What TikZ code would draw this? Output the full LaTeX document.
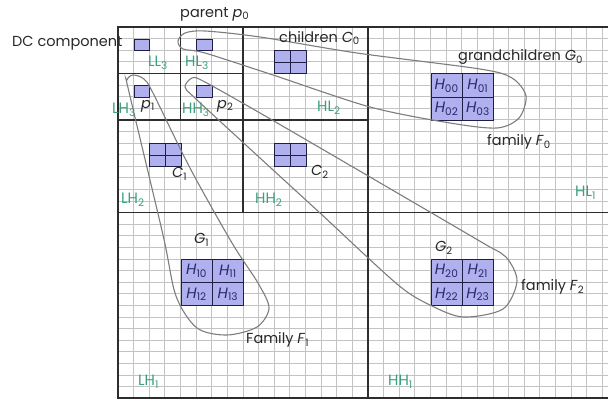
\documentclass[tikz,border=0pt]{standalone}
\usepackage{fontspec}
\setmainfont{Poppins}
\definecolor{gridgray}{RGB}{195,195,195}
\definecolor{majorline}{RGB}{45,45,45}
\definecolor{boxfill}{RGB}{176,176,238}
\definecolor{boxline}{RGB}{30,30,70}
\definecolor{htext}{RGB}{40,40,110}
\definecolor{labgreen}{RGB}{60,160,125}
\definecolor{famgray}{RGB}{125,125,125}
\definecolor{txtgray}{RGB}{40,40,40}
\newcommand\vsub[2]{\textit{#1}\textsubscript{#2}}
\begin{document}
\begin{tikzpicture}[x=1pt,y=-1pt,
  cellbox/.style={draw=boxline,line width=1pt,fill=boxfill,minimum width=15.625pt,minimum height=11.6pt,inner sep=0pt,anchor=north west},
  hbox/.style={draw=boxline,line width=1pt,fill=boxfill,minimum width=31.25pt,minimum height=23.2pt,inner sep=0pt,anchor=north west,text=htext,font=\fontsize{15}{16}\selectfont},
  lab/.style={anchor=west,inner sep=0pt,text=txtgray,font=\fontsize{14.5}{16}\selectfont},
  band/.style={anchor=west,inner sep=0pt,text=labgreen,font=\fontsize{15}{16}\selectfont},
  family/.style={draw=famgray,line width=1.1pt},
  major/.style={draw=majorline,line width=1.6pt}]
\useasboundingbox (0,0) rectangle (608,399);
\clip (0,0) rectangle (608,399);
% fine grid
\foreach \i in {0,...,32} {
  \draw[gridgray,line width=0.8pt] ({118+15.625*\i},27) -- ({118+15.625*\i},398.2);
  \draw[gridgray,line width=0.8pt] (118,{27+11.6*\i}) -- (618,{27+11.6*\i});
}
% parents
\node[cellbox] (p0d) at (133.625,38.6) {};
\node[cellbox] (p0) at (196.125,38.6) {};
\node[cellbox] (p1) at (133.625,85) {};
\node[cellbox] (p2) at (196.125,85) {};
% children blocks
\foreach \nm/\x/\y in {C0/274.25/50.2, C1/149.25/143, C2/274.25/143} {
  \node[cellbox] (\nm a) at (\x,\y) {};
  \node[cellbox] (\nm b) at ({\x+15.625},\y) {};
  \node[cellbox] (\nm c) at (\x,{\y+11.6}) {};
  \node[cellbox] (\nm d) at ({\x+15.625},{\y+11.6}) {};
}
% grandchildren blocks
\foreach \g/\x/\y in {0/430.5/73.4, 1/180.5/259, 2/430.5/259} {
  \node[hbox] (H\g0) at (\x,\y) {\textit{H}\textsubscript{\g0}};
  \node[hbox] (H\g1) at ({\x+31.25},\y) {\textit{H}\textsubscript{\g1}};
  \node[hbox] (H\g2) at (\x,{\y+23.2}) {\textit{H}\textsubscript{\g2}};
  \node[hbox] (H\g3) at ({\x+31.25},{\y+23.2}) {\textit{H}\textsubscript{\g3}};
}
% major subband lines
\draw[major] (618,27) -- (118,27) -- (118,398.2) -- (618,398.2);
\draw[major] (180.5,27) -- (180.5,119.8);
\draw[major] (118,73.4) -- (243,73.4);
\draw[major] (243,27) -- (243,212.6);
\draw[major] (118,119.8) -- (368,119.8);
\draw[major] (368,27) -- (368,398.2);
\draw[major] (118,212.6) -- (618,212.6);
% families
\draw[family] plot[smooth cycle,tension=0.5] coordinates {
  (178,41) (185,33) (205,31) (260,37) (357,53) (480,69) (512,78) (526,96)
  (519,118) (497,128) (450,123) (370,107) (273,75) (205,53) (183,49)};
\draw[family] plot[smooth cycle,tension=0.5] coordinates {
  (133,75) (144,79) (153,93) (190,168) (232,243) (258,283) (269,308)
  (257,327) (227,335) (197,328) (176,296) (163,235) (129,92) (127,80)};
\draw[family] plot[smooth cycle,tension=0.5] coordinates {
  (192,78) (203,81) (260,113) (370,177) (483,243) (506,257) (517,281)
  (503,309) (463,317) (430,305) (397,284) (320,213) (260,158) (196,99) (185,87)};
% text labels
\node[lab] (tparent) at (180,14) {parent \vsub{p}{0}};
\node[lab] (tdc) at (12,43) {DC component};
\node[lab] (tchild) at (279,38) {children \vsub{C}{0}};
\node[lab] (tgrand) at (458,57) {grandchildren \vsub{G}{0}};
\node[lab] (tf0) at (487,142) {family \vsub{F}{0}};
\node[lab] (tp1) at (141,106) {\vsub{p}{1}};
\node[lab] (tp2) at (217,106) {\vsub{p}{2}};
\node[lab] (tc1) at (172,174) {\vsub{C}{1}};
\node[lab] (tc2) at (311,172) {\vsub{C}{2}};
\node[lab] (tg1) at (194,240) {\vsub{G}{1}};
\node[lab] (tf1) at (246,340) {Family \vsub{F}{1}};
\node[lab] (tg2) at (435,248) {\vsub{G}{2}};
\node[lab] (tf2) at (521,287) {family \vsub{F}{2}};
% subband labels
\node[band] (LL3) at (148,63) {LL\textsubscript{3}};
\node[band] (HL3) at (185,63) {HL\textsubscript{3}};
\node[band] (LH3) at (112,110) {LH\textsubscript{3}};
\node[band] (HH3) at (182,110) {HH\textsubscript{3}};
\node[band] (HL2) at (317,108) {HL\textsubscript{2}};
\node[band] (LH2) at (121,200) {LH\textsubscript{2}};
\node[band] (HH2) at (255,200) {HH\textsubscript{2}};
\node[band] (HL1) at (575,193) {HL\textsubscript{1}};
\node[band] (LH1) at (138,382) {LH\textsubscript{1}};
\node[band] (HH1) at (388,382) {HH\textsubscript{1}};
\end{tikzpicture}
\end{document}
